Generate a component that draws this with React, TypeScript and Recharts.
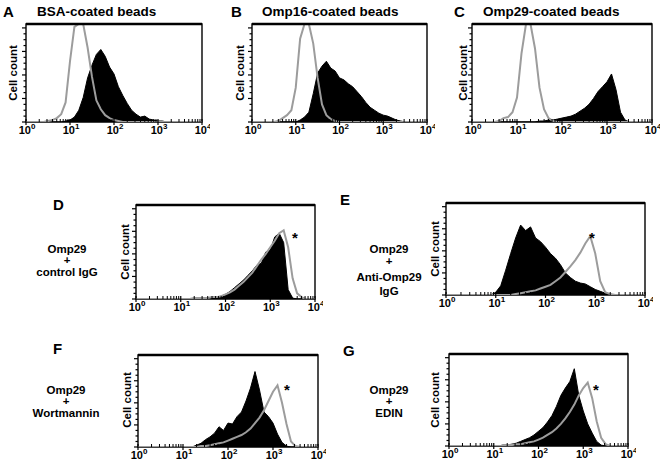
import React from "react";
import { AreaChart, Area, Line, XAxis, YAxis, ReferenceArea, ReferenceLine } from "recharts";

// log10 fluorescence positions shared by all histograms
const LOG_X = [
  0, 0.1, 0.2, 0.3, 0.4, 0.5, 0.6, 0.7, 0.8, 0.9,
  1, 1.1, 1.2, 1.3, 1.4, 1.5, 1.6, 1.7, 1.8, 1.9,
  2, 2.1, 2.2, 2.3, 2.4, 2.5, 2.6, 2.7, 2.8, 2.9,
  3, 3.1, 3.2, 3.3, 3.4, 3.5, 3.6, 3.7, 3.8, 3.9,
  4,
];
const DECADES = [0, 1, 2, 3, 4];
const MINOR_MULT = [2, 3, 4, 5, 6, 7, 8, 9];
const Y_TICKS = [0, 6, 12, 18, 24, 30, 36, 42, 48, 54, 60, 66, 72, 78, 84, 90, 96];

// % of full scale
const A_GRAY = [0,0,0,0,0,1,2,4,8,20, 62,97,100,100,76,46,22,13,7,4, 2,1,0,0,0,0,0,0,0,0, 0,0,0,0,0,0,0,0,0,0, 0];
const A_BLACK = [0,0,0,0,0,0,0,0,0,1, 2,5,12,25,45,58,69,74,67,56, 49,36,27,19,12,8,5,6,3,2, 1,1,0,0,0,0,0,0,0,0, 0];
const B_GRAY = [0,0,0,0,0,0,1,4,7,12, 35,85,100,100,80,45,18,7,3,1, 0,0,0,0,0,0,0,0,0,0, 0,0,0,0,0,0,0,0,0,0, 0];
const B_BLACK = [0,0,0,0,0,0,0,0,0,0, 0,2,5,10,29,50,57,62,55,52, 45,43,39,36,31,26,20,15,12,9, 7,6,4,2,1,0,0,0,0,0, 0];
const C_GRAY = [0,0,0,0,0,0,1,4,5,10, 25,70,100,100,75,35,13,4,1,0, 0,0,0,0,0,0,0,0,0,0, 0,0,0,0,0,0,0,0,0,0, 0];
const C_BLACK = [0,0,0,0,0,0,0,0,0,0, 0,0,0,0,0,1,1,2,2,3, 4,5,6,8,11,14,18,24,31,36, 41,49,33,10,2,0,0,0,0,0, 0];
const D_GRAY = [0,0,0,0,0,0,0,0,0,0, 0,0,0,1,1,1,1,2,2,3, 5,7,10,14,18,23,28,35,42,48, 55,62,70,73,55,22,6,2,0,0, 0];
const D_BLACK = [0,0,0,0,0,0,0,0,0,0, 0,0,0,0,0,0,0,1,2,3, 5,8,12,16,20,25,30,36,38,50, 52,66,70,60,10,1,0,0,0,0, 0];
const E_GRAY = [0,0,0,0,0,0,0,0,0,0, 0,0,0,0,1,2,3,4,5,7, 9,11,15,19,25,31,38,46,56,64, 45,15,3,1,0,0,0,0,0,0, 0];
const E_BLACK = [0,0,0,0,0,0,0,0,0,0, 3,10,27,45,62,76,70,74,62,58, 52,45,40,33,24,19,15,13,12,9, 6,4,2,1,0,0,0,0,0,0, 0];
const F_GRAY = [0,0,0,0,0,0,0,0,0,0, 0,0,0,0,1,1,2,3,4,5, 7,9,11,13,16,20,26,32,40,50, 60,67,48,25,6,1,0,0,0,0, 0];
const F_BLACK = [0,0,0,0,0,0,0,0,0,0, 0,0,0,2,4,8,11,15,22,18, 26,25,33,38,50,64,82,62,38,33, 26,14,5,1,0,0,0,0,0,0, 0];
const G_GRAY = [0,0,0,0,0,0,0,0,0,0, 0,0,0,1,1,2,2,3,4,5, 7,9,12,15,19,24,30,37,45,55, 63,69,52,27,9,2,0,0,0,0, 0];
const G_BLACK = [0,0,0,0,0,0,0,0,0,0, 0,0,1,1,2,3,5,7,9,12, 16,20,26,33,43,55,63,70,84,55, 38,24,14,5,1,0,0,0,0,0, 0];

const FONT = "'Liberation Sans', Arial, sans-serif";
const GRAY = "#9c9c9c";

const MINOR_TICKS = DECADES.slice(0, 4).flatMap((d) => MINOR_MULT.map((m) => d + Math.log10(m)));
const X_TICKS = [...DECADES, ...MINOR_TICKS];

// box = plot frame [left, top, right, bottom]
const PANELS = [
  { id: "A", box: [26, 24, 202, 122], gray: A_GRAY, black: A_BLACK },
  { id: "B", box: [252, 24, 427, 122], gray: B_GRAY, black: B_BLACK },
  { id: "C", box: [472, 24, 652, 122], gray: C_GRAY, black: C_BLACK },
  { id: "D", box: [136, 205, 315, 299], gray: D_GRAY, black: D_BLACK },
  { id: "E", box: [446, 203, 645, 295], gray: E_GRAY, black: E_BLACK },
  { id: "F", box: [138, 355, 318, 447], gray: F_GRAY, black: F_BLACK },
  { id: "G", box: [449, 354, 628, 446], gray: G_GRAY, black: G_BLACK },
];

function XTick(props: any) {
  const { x, y, payload } = props;
  const v = payload.value;
  if (Number.isInteger(v)) {
    return (
      <g>
        <line x1={x} x2={x} y1={y - 3} y2={y + 3} stroke="#000" strokeWidth={1.2} />
        <text x={x + 1} y={y + 12} textAnchor="middle" fontFamily={FONT} fontWeight="bold" fontSize={11} fill="#000">
          10<tspan dy={-5} fontSize={8}>{v}</tspan>
        </text>
      </g>
    );
  }
  return <line x1={x} x2={x} y1={y - 3} y2={y} stroke="#000" strokeWidth={1} />;
}

function YTick(props: any) {
  const { x, y, payload } = props;
  const len = payload.value % 24 === 0 ? 4 : 2.5;
  return <line x1={x - len} x2={x} y1={y} y2={y} stroke="#000" strokeWidth={1.2} />;
}

function Histogram({ box, gray, black }: { box: number[]; gray: number[]; black: number[] }) {
  const [l, t, r, b] = box;
  const w = r - l;
  const h = b - t;
  const data = LOG_X.map((x, i) => ({ x, black: black[i], gray: gray[i] }));
  return (
    <div style={{ position: "absolute", left: l - 8, top: t - 2 }}>
      <AreaChart width={w + 16} height={h + 20} data={data} margin={{ top: 2, right: 8, left: 0, bottom: 0 }}>
        <XAxis dataKey="x" type="number" domain={[0, 4]} ticks={X_TICKS} interval={0} allowDataOverflow
          axisLine={false} tickLine={false} tickSize={0} tickMargin={0} height={18} tick={<XTick />} />
        <YAxis type="number" domain={[0, 100]} ticks={Y_TICKS} interval={0} allowDataOverflow
          axisLine={false} tickLine={false} tickSize={0} tickMargin={0} width={8} tick={<YTick />} />
        <Area type="linear" dataKey="black" stroke="#000" strokeWidth={1} fill="#000" fillOpacity={1} isAnimationActive={false} />
        <Line type="linear" dataKey="gray" stroke={GRAY} strokeWidth={2} dot={false} isAnimationActive={false} />
        <ReferenceArea x1={0} x2={4} y1={0} y2={100} fill="none" stroke="#000" strokeWidth={1.4} />
        <ReferenceLine y={100} stroke="#000" strokeWidth={2.4} />
      </AreaChart>
    </div>
  );
}

const TOP_TITLES = [
  { letter: "A", lx: 3, tx: 37, title: "BSA-coated beads" },
  { letter: "B", lx: 231, tx: 262, title: "Omp16-coated beads" },
  { letter: "C", lx: 454, tx: 483, title: "Omp29-coated beads" },
];
const SIDE_LETTERS = [
  { letter: "D", x: 53, y: 210 },
  { letter: "E", x: 340, y: 205 },
  { letter: "F", x: 53, y: 354 },
  { letter: "G", x: 343, y: 356 },
];
const SIDE_LABELS = [
  { cx: 67, lines: [["Omp29", 253], ["+", 264], ["control IgG", 276]] },
  { cx: 389, lines: [["Omp29", 253], ["+", 265], ["Anti-Omp29", 281], ["IgG", 295]] },
  { cx: 66, lines: [["Omp29", 394], ["+", 405], ["Wortmannin", 417]] },
  { cx: 389, lines: [["Omp29", 394], ["+", 405], ["EDIN", 417]] },
];
const CELL_COUNT = [[13, 73], [240, 73], [463, 73], [125, 252], [435, 249], [127, 400], [435, 400]];
const STARS = [[295, 243], [592, 243], [287, 395], [596, 395]];

export default function App() {
  return (
    <div style={{ position: "absolute", left: 0, top: 0, width: 662, height: 473, background: "#fff", overflow: "hidden" }}>
      {PANELS.map((p) => (
        <Histogram key={p.id} box={p.box} gray={p.gray} black={p.black} />
      ))}
      <svg width={662} height={473} style={{ position: "absolute", left: 0, top: 0, pointerEvents: "none" }}
        fontFamily={FONT} fontWeight="bold" fill="#000">
        {TOP_TITLES.map((t) => (
          <g key={t.letter}>
            <text x={t.lx} y={17} fontSize={15}>{t.letter}</text>
            <text x={t.tx} y={16} fontSize={13.5}>{t.title}</text>
          </g>
        ))}
        {SIDE_LETTERS.map((s) => (
          <text key={s.letter} x={s.x} y={s.y} fontSize={15}>{s.letter}</text>
        ))}
        {SIDE_LABELS.map((s, i) =>
          s.lines.map(([txt, y]) => (
            <text key={i + "-" + txt} x={s.cx} y={y as number} fontSize={11.5} textAnchor="middle">{txt}</text>
          ))
        )}
        {CELL_COUNT.map(([cx, cy], i) => (
          <text key={"cc" + i} x={cx + 4} y={cy} fontSize={11.5} textAnchor="middle" transform={`rotate(-90 ${cx + 4} ${cy})`}>
            Cell count
          </text>
        ))}
        {STARS.map(([x, y], i) => (
          <text key={"st" + i} x={x} y={y} fontSize={15} textAnchor="middle">*</text>
        ))}
      </svg>
    </div>
  );
}
